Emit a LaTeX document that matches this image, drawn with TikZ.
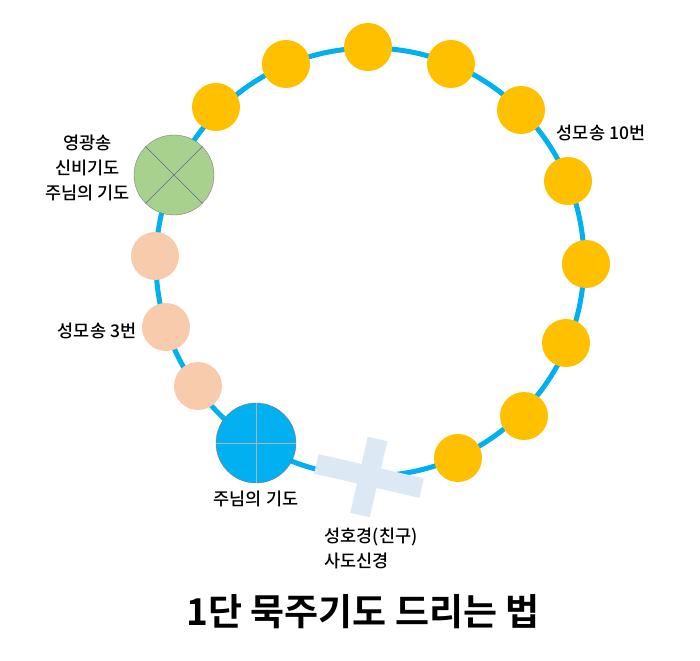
\documentclass[tikz,border=0pt]{standalone}
\usepackage{fontspec}
\setmainfont{Noto Sans CJK KR}
\newfontfamily\kbold{Noto Sans CJK KR Bold}
\newfontfamily\kmed{Noto Sans CJK KR Medium}
\begin{document}
\begin{tikzpicture}[x=1pt,y=-1pt,
 ybead/.style={circle,fill={rgb,255:red,255;green,192;blue,0},minimum size=48pt,inner sep=0pt},
 pbead/.style={circle,fill={rgb,255:red,248;green,203;blue,173},minimum size=48pt,inner sep=0pt},
 lbl/.style={font=\kmed\fontsize{17.5}{25}\selectfont,align=center}]
\useasboundingbox (0,0) rectangle (700,660);
\definecolor{ring}{RGB}{0,176,240}
\definecolor{crosscol}{RGB}{220,233,245}
\draw[ring,line width=5pt] (370,262) circle[radius=214];
\begin{scope}[shift={(369,476)},rotate=-13]
\fill[crosscol] (-54,-10) rectangle (54,10);
\fill[crosscol] (-10,-38) rectangle (10,40);
\end{scope}
\coordinate (cc) at (369,476);
\foreach \n/\x/\y in {y1/368/47,y2/286/64,y3/451/64,y4/216/107,y5/521/110,y6/568/181,y7/586/264,y8/566/343,y9/524/416,y10/458/458}
  \node[ybead] (\n) at (\x,\y) {};
\foreach \n/\x/\y in {p1/155/256,p2/166/327,p3/198/386}
  \node[pbead] (\n) at (\x,\y) {};
\node[circle,fill={rgb,255:red,169;green,209;blue,142},draw=gray,minimum size=80pt,inner sep=0pt] (g) at (174,175) {};
\draw[gray!80!blue] (g.north west)--(g.south east) (g.north east)--(g.south west);
\node[circle,fill=ring,draw=gray,minimum size=80pt,inner sep=0pt] (b) at (256,443) {};
\draw[gray!60] (b.north)--(b.south) (b.west)--(b.east);
\node[lbl,anchor=east] (tg) at (133,168) {영광송\\신비기도\\주님의 기도};
\node[lbl] (tp) at (97,331) {성모송 3번};
\node[lbl] (ty) at (601,133) {성모송 10번};
\node[lbl] (tb) at (256,499) {주님의 기도};
\node[lbl,align=left,anchor=west] (tc) at (321,548) {성호경(친구)\\사도신경};
\node[font=\kbold\fontsize{37}{44}\selectfont] (title) at (363,612) {1단 묵주기도 드리는 법};
\end{tikzpicture}
\end{document}
